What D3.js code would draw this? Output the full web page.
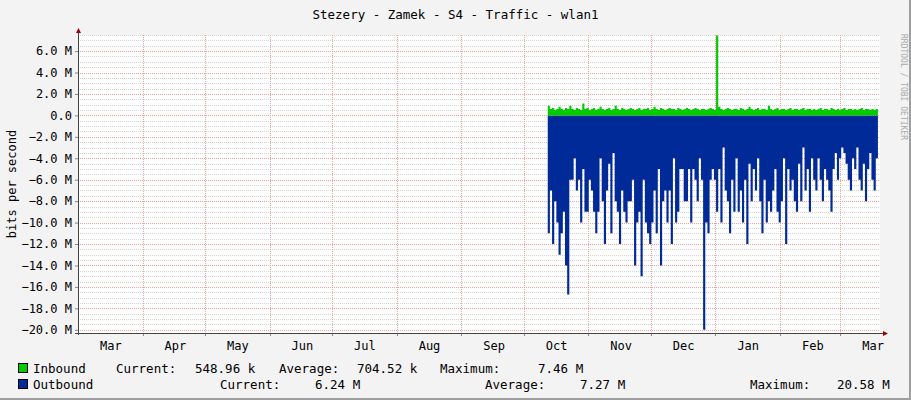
<!DOCTYPE html>
<html><head><meta charset="utf-8">
<script src="https://cdn.jsdelivr.net/npm/d3@7"></script>
<style>body{margin:0;background:#f3f3f3}svg{display:block}</style>
</head><body>
<script>
const title = "Stezery - Zamek - S4 - Traffic - wlan1";
const startDate = new Date(2023, 9, 12, 12);
const endDate = new Date(2024, 2, 19);
// inbound, M bits/s
const inbound = [0.9,0.6,0.7,0.5,0.6,0.8,0.6,0.5,0.7,0.6,0.9,0.6,0.5,0.7,0.6,0.5,1.1,0.6,0.7,0.5,0.6,0.7,0.5,0.6,0.8,0.6,0.5,0.6,0.7,0.5,0.6,0.9,0.6,0.5,0.7,0.6,0.5,0.6,0.7,0.6,0.5,0.6,0.7,0.5,0.6,0.6,0.7,0.5,0.6,0.8,0.6,0.5,0.7,0.6,0.5,0.6,0.7,0.6,0.6,0.5,0.7,0.6,0.5,0.6,0.7,0.6,0.5,0.6,0.7,0.6,0.5,0.6,0.6,0.5,0.6,0.7,0.6,0.5,7.46,0.8,0.6,0.5,0.6,0.7,0.6,0.5,0.6,0.6,0.5,0.7,0.6,0.5,0.6,0.8,0.6,0.5,0.6,0.7,0.5,0.6,0.6,0.5,0.9,0.6,0.5,0.6,0.7,0.5,0.6,0.6,0.5,0.6,0.7,0.5,0.6,0.6,0.5,0.6,0.7,0.5,0.6,0.6,0.5,0.6,0.5,0.6,0.7,0.5,0.6,0.6,0.5,0.7,0.6,0.5,0.6,0.5,0.6,0.7,0.5,0.6,0.6,0.5,0.6,0.5,0.6,0.7,0.5,0.6,0.6,0.5,0.6,0.5,0.6,0.55];
// outbound, M bits/s (drawn negative)
const outbound = [11,7,12,8,10,13,11,9,14,16.7,6,6,4,7,6,10,5,9,9,6,7,9,11,9,4,8,12,7,4.5,11,3.5,8,9,12,7,9,10,8,8,6,14,10,9,15,6,10,11,12,10,7,11,5,14,8,7,10,7,12,4,10,9,5,5,8,8,5,10,5,6,8,4,6,20,10,11,6,5,
 6,9,5,10,3,7,8,11,6,9,4,9,7,10,6,12,4.5,8,5,7,4,8,11,6,10,8,9,7,5,9,10,8,4,12,5,7,6,8,9,4.5,8,3,7,5,9,4,6,7,4,6,8,5,6,7,9,5,3.5,6,4,3,3.5,4.5,6,7,4,5,3,6,7,4.5,8,5,3.5,6,7,4,6];
const yTicks = [6,4,2,0,-2,-4,-6,-8,-10,-12,-14,-16,-18,-20];
const legendRows = [
  {name:"Inbound", color:"#00cc00", cells:[["Current:",116],["548.96 k",195],["Average:",279],["704.52 k",357],["Maximum:",440],["7.46 M",538]]},
  {name:"Outbound", color:"#002a97", cells:[["Current:",220],["6.24 M",315],["Average:",485],["7.27 M",580],["Maximum:",750],["20.58 M",837]]}
];

const width = 911, height = 400;
const margin = {top: 35, right: 31, bottom: 67, left: 78};
const font = "DejaVu Sans Mono, monospace";

const svg = d3.select("body").append("svg").attr("width", width).attr("height", height);
svg.append("rect").attr("width", width).attr("height", height).attr("fill", "#f3f3f3");
svg.append("path").attr("d", `M${width-1},0V${height-1}H0`).attr("stroke", "#9f9f9f").attr("stroke-width", 2).attr("fill", "none");

const x = d3.scaleTime().domain([new Date(2023, 2, 1), new Date(2024, 2, 20)]).range([margin.left, width - margin.right]);
const y = d3.scaleLinear().domain([-20.3, 7.5]).range([height - margin.bottom, margin.top]);

svg.append("rect").attr("x", margin.left).attr("y", margin.top)
  .attr("width", width - margin.right - margin.left).attr("height", y.range()[0] - margin.top).attr("fill", "#fff");

const grid = svg.append("g").attr("stroke-dasharray", "1,1").attr("stroke-width", 1).attr("shape-rendering", "crispEdges");
grid.selectAll(".minor").data(d3.range(-20, 7.6, 0.5).filter(v => v % 2 !== 0))
  .join("line").attr("x1", margin.left).attr("x2", width - margin.right)
  .attr("y1", d => Math.round(y(d)) + 0.5).attr("y2", d => Math.round(y(d)) + 0.5).attr("stroke", "#d6d6d6");
grid.selectAll(".major").data(yTicks)
  .join("line").attr("x1", margin.left).attr("x2", width - margin.right)
  .attr("y1", d => Math.round(y(d)) + 0.5).attr("y2", d => Math.round(y(d)) + 0.5).attr("stroke", "#f2a0a0");
const months = d3.timeMonth.range(new Date(2023, 3, 1), new Date(2024, 2, 2));
grid.selectAll(".vx").data(months)
  .join("line").attr("y1", margin.top).attr("y2", y.range()[0])
  .attr("x1", d => Math.round(x(d)) + 0.5).attr("x2", d => Math.round(x(d)) + 0.5).attr("stroke", "#f2a0a0");

const step = (endDate - startDate) / (inbound.length - 1);
const inPts = inbound.map((v, i) => [new Date(+startDate + i * step), v]);
const stepO = (endDate - startDate) / (outbound.length - 1);
const outPts = outbound.map((v, i) => [new Date(+startDate + i * stepO), -v]);

svg.append("path").datum(outPts).attr("fill", "#002a97")
  .attr("d", d3.area().x(d => x(d[0])).y0(y(0)).y1(d => y(d[1])).curve(d3.curveStepAfter));
svg.append("path").datum(inPts).attr("fill", "#00cc00")
  .attr("d", d3.area().x(d => x(d[0])).y0(y(0)).y1(d => y(d[1])).curve(d3.curveStepAfter));

// axes
const yAxis = svg.append("g").attr("transform", `translate(${margin.left},0)`)
  .call(d3.axisLeft(y).tickValues(yTicks).tickSize(3).tickFormat(d => d === 0 ? "0.0  " : d3.format(".1f")(d) + " M"));
yAxis.select(".domain").remove();
yAxis.selectAll("line").attr("stroke", "#888");
yAxis.selectAll("text").attr("font-family", font).attr("font-size", 12).attr("fill", "#000").attr("x", -6);

const mids = d3.timeMonth.range(new Date(2023, 2, 1), new Date(2024, 2, 2)).map(d => new Date(+d + 15.5 * 864e5));
const xAxis = svg.append("g").attr("transform", `translate(0,${y.range()[0]})`)
  .call(d3.axisBottom(x).tickValues(mids).tickSize(0).tickPadding(8).tickFormat(d3.timeFormat("%b")));
xAxis.select(".domain").remove();
xAxis.selectAll("text").attr("font-family", font).attr("font-size", 12).attr("fill", "#000")
  .attr("x", d => Math.min(0, width - margin.right + 8 - x(d) - 12));
svg.append("g").selectAll("line").data(months).join("line")
  .attr("x1", d => Math.round(x(d)) + 0.5).attr("x2", d => Math.round(x(d)) + 0.5)
  .attr("y1", y.range()[0]).attr("y2", y.range()[0] + 3).attr("stroke", "#888");

svg.append("line").attr("x1", margin.left + 0.5).attr("x2", margin.left + 0.5).attr("y1", y.range()[0] + 2).attr("y2", margin.top - 4).attr("stroke", "#444");
svg.append("line").attr("x1", margin.left - 3).attr("x2", width - margin.right + 3).attr("y1", y.range()[0] + 0.5).attr("y2", y.range()[0] + 0.5).attr("stroke", "#444");
svg.append("path").attr("d", `M${margin.left - 2},${margin.top - 2}L${margin.left + 0.5},${margin.top - 7}L${margin.left + 3},${margin.top - 2}Z`).attr("fill", "#a00000");
const ax = width - margin.right + 3, ay = y.range()[0] + 0.5;
svg.append("path").attr("d", `M${ax},${ay - 2.5}L${ax + 5},${ay}L${ax},${ay + 2.5}Z`).attr("fill", "#a00000");

// texts
svg.append("text").attr("x", width / 2).attr("y", 19).attr("text-anchor", "middle")
  .attr("font-family", font).attr("font-size", 12.5).text(title);
svg.append("text").attr("transform", `translate(16,${(margin.top + y.range()[0]) / 2}) rotate(-90)`)
  .attr("text-anchor", "middle").attr("font-family", font).attr("font-size", 12).text("bits per second");
svg.append("text").attr("transform", `translate(901,34) rotate(90)`)
  .attr("font-family", font).attr("font-size", 8).attr("fill", "#aaa").text("RRDTOOL / TOBI OETIKER");

const leg = svg.append("g").attr("font-family", font).attr("font-size", 12.5);
legendRows.forEach((r, i) => {
  const by = 373 + i * 16;
  leg.append("rect").attr("x", 18.5).attr("y", by - 9.5).attr("width", 9).attr("height", 9)
    .attr("fill", r.color).attr("stroke", "#000");
  leg.append("text").attr("x", 33).attr("y", by).text(r.name);
  r.cells.forEach(([t, cx]) => leg.append("text").attr("x", cx).attr("y", by).text(t));
});
</script>
</body></html>
